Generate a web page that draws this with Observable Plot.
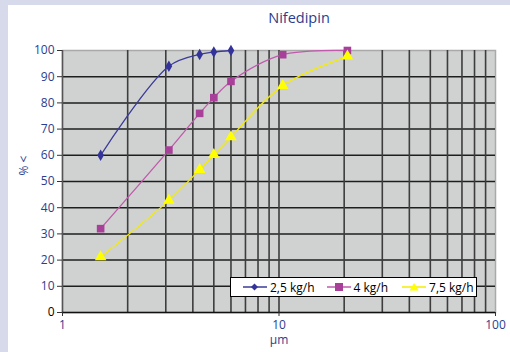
<!DOCTYPE html>
<html>
<head>
<meta charset="utf-8">
<script src="https://cdn.jsdelivr.net/npm/d3@7"></script>
<script src="https://cdn.jsdelivr.net/npm/@observablehq/plot@0.6"></script>
<style>
  html, body { margin: 0; padding: 0; background: #d6daea; width: 510px; height: 352px; overflow: hidden; }
  #wrap { position: absolute; left: 8px; top: 5px; width: 502px; height: 347px; background: #ffffff; }
  #legend { position: absolute; left: 222px; top: 272px; width: 245px; height: 18px; background: #fff; border: 1px solid #000;
            font-family: "Open Sans", sans-serif; font-size: 12px; color: #000; display: flex; align-items: center; }
  #legend .item { display: flex; align-items: center; }
  #legend svg { display: block; }
</style>
</head>
<body>
<div id="wrap"></div>
<script>
// ---- data ----
const title = "Nifedipin";
const xLabel = "µm";
const yLabel = "% <";
const seriesNames = ["2,5 kg/h", "4 kg/h", "7,5 kg/h"];
const seriesColors = ["#333399", "#a8409a", "#ffff00"];
const lineColors = ["#3b3b98", "#c05aac", "#f4ec00"];
const sizes25 = [1.5, 3.1, 4.3, 5, 6];
const rate25 = [60, 94, 98.5, 99.4, 100];
const sizes4 = [1.5, 3.1, 4.3, 5, 6, 10.4, 20.7];
const rate4 = [32, 62, 76, 82, 88.2, 98.4, 100];
const sizes75 = [1.5, 3.1, 4.3, 5, 6, 10.4, 20.7];
const rate75 = [21.2, 42.8, 54.5, 60.2, 67, 86.6, 97.8];
const yTicks = [0, 10, 20, 30, 40, 50, 60, 70, 80, 90, 100];
const xTicks = [1, 10, 100];
const xGrid = [2, 3, 4, 5, 6, 7, 8, 9, 10, 20, 30, 40, 50, 60, 70, 80, 90];
const symbols = ["diamond", "square", "triangle"];

const blue = "#2b3d8f";

const chart = Plot.plot({
  width: 502,
  height: 347,
  marginLeft: 54,
  marginRight: 15,
  marginTop: 45,
  marginBottom: 40,
  style: { fontFamily: "Open Sans, sans-serif", fontSize: "12px", background: "#ffffff", overflow: "visible" },
  x: { type: "log", domain: [1, 100], axis: null },
  y: { domain: [0, 100], axis: null },
  marks: [
    Plot.frame({ fill: "#d0d2d2", stroke: "#a9a9a9", strokeWidth: 1.5 }),
    Plot.ruleY(yTicks.filter(d => d > 0 && d < 100), { stroke: "#1e1e1e", strokeWidth: 1.5 }),
    Plot.ruleX(xGrid, { stroke: "#3d3d3d", strokeWidth: 1.6 }),
    Plot.ruleX([1], { stroke: "#555", strokeWidth: 1.5 }),
    Plot.ruleY([0], { stroke: "#111", strokeWidth: 1.5 }),
    Plot.axisY({ ticks: yTicks.filter(d => d > 0), tickSize: 5, stroke: "#333", fill: blue, tickPadding: 3, fontSize: 12, label: null }),
    Plot.axisY({ ticks: [0], tickSize: 5, stroke: "#333", fill: "#000", tickPadding: 3, fontSize: 12, label: null }),
    Plot.axisX({ ticks: xTicks, tickSize: 4, stroke: "#333", fill: blue, tickPadding: 4, fontSize: 12, tickFormat: d => String(d), label: null }),
    // series lines
    Plot.line(rate25, { x: sizes25, y: rate25, stroke: lineColors[0], strokeWidth: 1.3, curve: "catmull-rom" }),
    Plot.line(rate4, { x: sizes4, y: rate4, stroke: lineColors[1], strokeWidth: 1.3, curve: "catmull-rom" }),
    Plot.line(rate75, { x: sizes75, y: rate75, stroke: lineColors[2], strokeWidth: 1.3, curve: "catmull-rom" }),
    Plot.dot(rate25, { x: sizes25, y: rate25, symbol: "diamond", fill: seriesColors[0], r: 3.5 }),
    Plot.dot(rate4, { x: sizes4, y: rate4, symbol: "square", fill: seriesColors[1], r: 4.3 }),
    Plot.dot(rate75, { x: sizes75, y: rate75, symbol: "triangle", fill: seriesColors[2], r: 4.3 }),
    // texts
    Plot.text([title], { frameAnchor: "top", dx: 20, dy: -32, fill: blue, fontSize: 14.5, lineAnchor: "middle" }),
    Plot.text([xLabel], { frameAnchor: "bottom", dy: 28, fill: blue, fontSize: 12, lineAnchor: "middle" }),
    Plot.text([yLabel], { frameAnchor: "left", dx: -38, dy: -6, rotate: -90, fill: blue, fontSize: 12, lineAnchor: "middle" })
  ]
});
document.getElementById("wrap").appendChild(chart);

// legend
const legend = document.createElement("div");
legend.id = "legend";
const shapes = {
  diamond: c => `<path d="M11.5 1.5 L15 5 L11.5 8.5 L8 5 Z" fill="${c}"/>`,
  square: c => `<rect x="8" y="1" width="8" height="8" fill="${c}"/>`,
  triangle: c => `<path d="M12 1 L16.5 8.5 L7.5 8.5 Z" fill="${c}"/>`
};
const gaps = [12, 12, 14];
seriesNames.forEach((name, i) => {
  const item = document.createElement("div");
  item.className = "item";
  item.style.marginLeft = gaps[i] + "px";
  item.innerHTML = `<svg width="24" height="10"><line x1="0" x2="24" y1="5" y2="5" stroke="${lineColors[i]}" stroke-width="1.5"/>${shapes[symbols[i]](seriesColors[i])}</svg><span style="margin-left:3px">${name}</span>`;
  legend.appendChild(item);
});
document.getElementById("wrap").appendChild(legend);
</script>
</body>
</html>
